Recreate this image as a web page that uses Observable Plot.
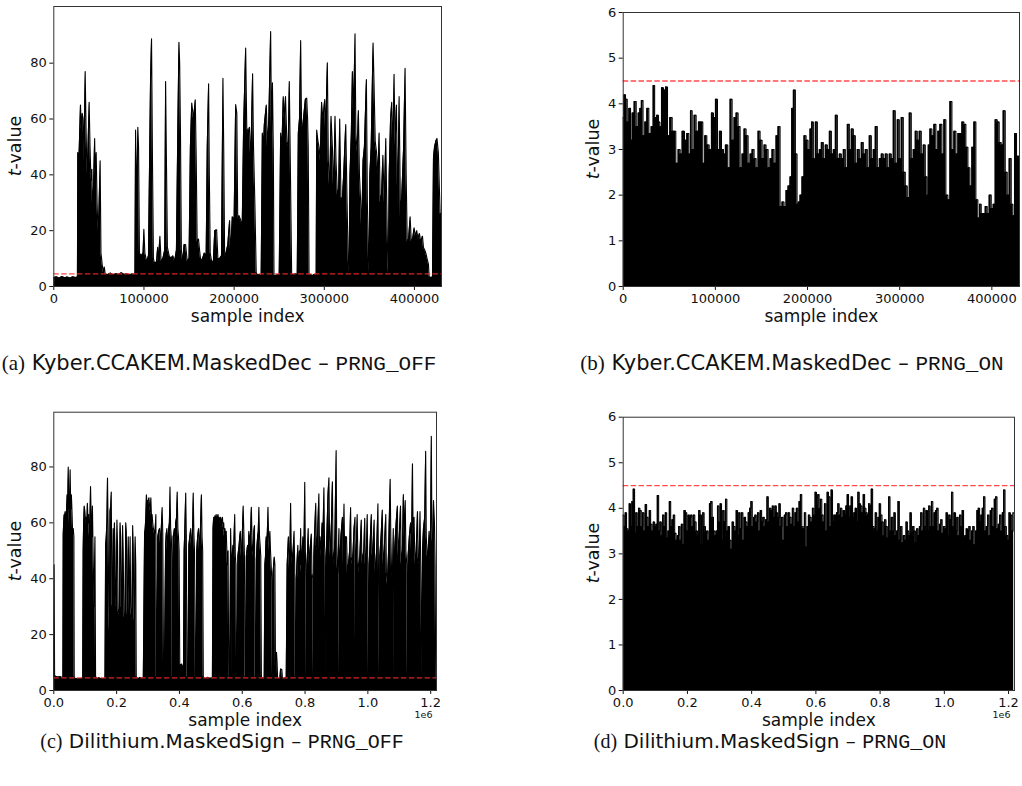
<!DOCTYPE html>
<html><head><meta charset="utf-8">
<script src="https://cdn.jsdelivr.net/npm/d3@7"></script>
<script src="https://cdn.jsdelivr.net/npm/@observablehq/plot@0.6"></script>
<style>
body{margin:0;background:#fff;}
#fig{position:relative;width:1022px;height:786px;overflow:hidden;font-family:"DejaVu Sans",sans-serif;color:#111;}
.ylab{position:absolute;font-size:17.5px;white-space:nowrap;transform:translate(-50%,-50%) rotate(-90deg);}
.cap{position:absolute;font-size:20px;white-space:nowrap;transform:translate(-50%,-50%);}
.cap.top{font-size:21px;}
.cap .lbl{font-family:"Liberation Serif",serif;}
.cap .nm{font-family:"DejaVu Sans",sans-serif;}
.cap .tt{font-family:"Liberation Mono","DejaVu Sans Mono",monospace;}
</style></head><body><div id="fig"></div>
<script>
// ---- data (sample index in thousands, t-value) ----
const threshold = 4.5;
const abTickVals = [0,100,200,300,400];
const abTickLabels = ["0","100000","200000","300000","400000"];
const cdTickVals = [0,200,400,600,800,1000,1200];
const cdTickLabels = ["0.0","0.2","0.4","0.6","0.8","1.0","1.2"];
const offTicks = [0,20,40,60,80];
const onTicks = [0,1,2,3,4,5,6];

const aPts = [[0,3.2],[3,3.5],[6,3.0],[9,3.6],[12,3.1],[15,3.4],[18,3.0],[21,3.5],[24,3.2],[26.2,3.4],
[26.6,48],[28,47],[29.6,65],[30.5,56],[31.5,62],[32.6,60],[33.5,45],[34.8,77],[35.8,56],[36.8,40],[37.8,48],[39.2,66],[40.2,50],[41.2,38],[42.2,42],[43,28],[44,35],[45.3,53],[46,40],[47,48],[48,30],[49,20],[50,26],[51.4,45],[52.3,12],[53,10],[54,7],[55,5],[56,7],[57,4.5],[60,4.3],[63,4.8],[66,4.2],[69,4.6],[72,4.4],[75,4.9],[78,4.3],[81,4.6],[84,4.2],[87,4.5],[90,4.4],
[90.7,56],[91.8,30],[93.2,57],[94,50],[95,12],[97,11],[99,12],[99.9,20.5],[101,12],[103,9],[105,11],[107.3,74],[108.4,88.7],[109.5,43],[110.5,10],[112,8],[114,9],[115.2,14],[116,9],[117.7,18],[119,9],[121,10],[123,13],[124,73.4],[125,43],[126,14],[128,11],[130,10],[132,11],[134,9],[136,13],[137.5,55],[138.8,87.5],[139.6,80],[140.5,55],[141.5,13],[143,9],[144.5,15],[146.2,15],[148,9],[150,10],[151.5,50],[153,65.7],[155,60],[156.9,66.9],[158,45],[159,16],[160.5,17],[161.7,13],[163,9],[165,10],[167,12],[169,11],[170.2,50],[171.7,72.6],[172.5,40],[173.5,12],[175,9],[177,9],[178.5,20],[180.6,20.3],[182,10],[184,10],[186,11],[187.6,74.6],[188.5,48],[189.5,10],[191,12],[193,15],[195,23.6],[196.1,12],[198,25],[200,24],[201.7,65.2],[203,62],[204,24],[205.4,25.4],[207,24],[209,22],[210.5,57],[212.8,85.4],[214,57],[215.5,55],[217,57],[218.5,45],[220.5,76.2],[221.5,50],[223,30],[224.5,5],
[226,4],[228,4.3],[230,3.8],
[231.3,55],[232.5,50],[233.5,58],[235.7,65],[237,50],[238.5,60],[240.5,91.3],[241.5,55],[242.5,73],[243.5,48],[244.2,4],
[246,3.9],[248,4.2],[250,4.1],
[251.6,55],[253,50],[254.5,68],[255.7,60],[257,68],[258.5,52],[260,50],[261.2,73.4],[262.3,45],[263.8,4.5],
[266,4.3],[268,4.6],[270,4.2],
[271.2,55],[272.5,60],[273.8,88.1],[274.8,58],[276,57],[277.5,62],[279,67],[280.5,67.5],[281.5,60],[282.2,50],[283.1,4],
[285,4.2],[287,3.9],[289,4.3],[291,4.1],
[291.6,56],[293,52],[294.2,50],[295.5,45],[297,66],[298.5,60],[300.5,67],[301.5,55],[303.4,80.1],[304.5,45],[306,35],[307.5,61],[309,50],[310.5,33],[311.9,61],[313,45],[314.5,33],[316,35],[317.1,60],[318.5,32],[320,31],[321.5,40],[323.8,58],[325,35],[326.5,10],[327.5,5],
[328.5,40],[330,55],[331.2,77],[332.5,62],[334.1,90.5],[335,55],[336.5,48],[337.8,63],[339,40],[340.4,30],[341.5,20],[343,45],[344.5,50],[346.7,74.1],[347.8,30],[349,10],[349.7,5],
[350.5,40],[352,50],[354.1,87.2],[355,75],[356.5,52],[358,48],[359.5,40],[360.8,55],[362,30],[363.5,33],[365,47],[366.5,30],[368.2,53],[369.5,25],[370.5,8],[371.1,5],
[372,40],[373.5,60],[374.8,66],[376,48],[377.4,76],[378.5,50],[380,65],[381.5,28],[383,68],[384.5,25],[386,33],[388,50],[389.6,78.2],[390.8,40],[392,16],[393.5,17],[395.2,25],[396.5,16],[398,17],[399.6,21],[401,18],[402.5,20],[404,17],[405.5,19],[407,16],[408.9,18],[410,14],[411.5,13],[412.6,12],[414,10],[415.5,8],[416.3,3.5],
[418,3.2],[420,3.4],
[421.1,46],[422.3,50],[423.7,52],[425,53],[426.5,48],[428.5,26],[430,26]];

const bPts = [[0,3.7],[1.4,4.2],[3.6,4.1],[5.1,3.6],[7.2,3.9],[8.7,3.2],[10.8,3.8],[13.0,4.05],[15.2,3.5],[17.3,3.8],[18.8,3.9],[20.6,4.07],[22.4,3.3],[24.6,3.6],[26.7,3.9],[28.9,3.35],[31.8,3.5],[33.2,4.4],[35.0,3.7],[37.6,3.75],[39.0,3.6],[40.5,3.5],[42.6,4.35],[44.8,4.3],[47.0,4.37],[49.1,3.3],[52.0,3.7],[54.2,3.4],[55.6,3.4],[58.5,2.7],[60.7,3.0],[62.9,2.9],[65.0,3.4],[67.9,3.2],[70.1,3.35],[72.3,2.9],[73.7,3.85],[75.9,3.0],[78.0,3.75],[80.2,3.4],[83.1,3.6],[85.3,3.6],[87.4,2.7],[89.6,3.3],[91.8,3.1],[94.7,3.0],[96.8,3.8],[99.0,3.7],[101.2,4.1],[103.3,3.0],[105.5,3.4],[107.7,3.0],[109.8,2.9],[112.0,3.1],[114.9,2.6],[117.1,4.1],[119.2,3.2],[121.4,3.7],[123.6,3.8],[125.7,3.5],[127.9,2.6],[130.1,2.9],[132.2,3.45],[134.4,3.3],[136.6,2.7],[138.8,2.9],[140.9,3.0],[143.1,2.8],[145.3,2.6],[147.4,3.4],[149.6,3.2],[151.8,2.8],[153.9,3.1],[156.1,3.0],[158.3,2.6],[160.4,2.8],[162.6,3.0],[164.8,2.7],[166.9,3.3],[169.1,3.5],[171.3,1.75],[173.4,1.85],[175.6,1.75],[177.8,2.1],[179.9,2.2],[182.1,2.4],[183.6,3.9],[185.7,4.3],[187.9,2.9],[189.3,1.8],[190.8,1.85],[192.9,2.0],[195.1,2.4],[197.3,3.3],[199.5,3.2],[201.6,3.0],[203.8,3.45],[205.2,3.6],[207.4,2.8],[209.6,3.6],[211.7,2.9],[213.9,3.0],[216.1,3.15],[218.2,2.8],[220.4,3.1],[222.6,3.0],[224.8,3.4],[226.9,2.9],[229.1,3.0],[231.3,3.75],[233.4,2.8],[235.6,2.9],[237.8,2.8],[239.9,3.0],[242.1,2.6],[244.3,3.55],[246.4,3.0],[248.6,3.45],[250.8,3.3],[252.9,2.7],[255.1,3.0],[257.3,2.8],[259.4,3.15],[261.6,2.9],[263.8,3.0],[265.9,2.6],[268.1,3.3],[270.3,2.8],[272.4,3.0],[274.6,3.5],[276.8,2.6],[279.0,2.8],[281.1,2.9],[283.3,2.8],[285.5,2.9],[287.6,2.6],[289.8,2.9],[292.0,2.8],[294.1,3.85],[296.3,2.7],[298.5,3.65],[300.6,2.8],[302.8,3.7],[305.0,2.5],[307.1,2.2],[309.3,1.95],[311.5,3.8],[313.6,2.8],[315.8,3.0],[318.0,3.4],[320.1,3.2],[322.3,3.4],[324.5,2.9],[326.7,3.1],[328.8,2.4],[330.3,2.0],[331.7,3.1],[333.9,3.45],[336.0,3.3],[338.2,3.55],[340.4,3.0],[342.5,3.4],[344.7,3.55],[346.9,2.9],[349.0,3.65],[351.2,2.0],[353.4,1.9],[355.6,4.05],[357.7,3.0],[359.9,3.4],[362.1,2.9],[364.2,3.35],[366.4,3.35],[368.6,3.6],[370.7,3.55],[372.9,3.05],[375.1,2.6],[377.2,2.2],[379.4,3.05],[381.6,3.6],[383.7,1.9],[385.9,1.5],[387.4,1.8],[389.5,1.6],[391.7,1.6],[393.9,1.75],[396.0,1.6],[398.2,2.0],[400.4,1.7],[402.5,1.8],[404.7,3.65],[406.9,3.6],[409.0,3.15],[411.2,3.1],[413.4,3.85],[415.6,2.5],[417.7,2.0],[419.9,2.8],[422.1,1.8],[423.5,1.55],[425.7,3.35],[427.8,2.85],[430,2.85]];

const cPts = [[0,4.5],[1,45],[2.5,5],[5,5.2],[8,4.8],[11,5],[14,4.6],[17,5],[20,4.8],[23,4.9],[26,4.5],[29,4.8],
[30,56],[31.5,60],[33,63],[34.5,62],[36,64],[38,62],[40,63],[42,70],[44,62],[46,80],[48,65],[50,60],[52,79],[54,65],[56,70],[58,64],[60,56],[62,58],[64,55],[65,5],
[68,4.2],[72,4.3],[76,4],[80,4.3],[84,4.1],[88,4.4],[92,4.3],
[93.5,50],[95,60],[97,66],[99,64],[101,61],[103,62],[105,58],[107,67],[109,60],[111,63],[113,55],[115,60],[117,73],[119,62],[121,55],[123,66],[125,50],[128,30],[131,55],[133,5],
[136,4.5],[140,4.3],[144,4.6],[148,4.2],[152,4.4],[156,4.1],[160,4.3],[163,4.5],
[165,52],[167,55],[169,60],[171,76],[173,58],[175,30],[177,21],[179,64],[181,66],[183,71],[185,30],[187,31],[189,58],[191,30],[193,60],[195,50],[197,31],[199,30],[201,61],[203,52],[205,28],[207,29],[209,27],[211,60],[213,55],[215,30],[217,28],[219,59],[221,50],[223,27],[225,26],[227,28],[229,60],[231,57],[233,30],[235,26],[237,55],[239,40],[241,28],[243,55],[245,30],[247,27],[249,25],[251,59],[253,52],[255,27],[257,25],[259,55],[261,45],[262.5,5],
[265,4.5],[270,4.3],[275,4.7],[280,4.4],[285,4.6],
[289,56],[291,58],[293,62],[295,70],[297,66],[299,68],[301,68],[303,69],[305,66],[307,64],[309,69],[311,62],[313,63],[315,60],[317,58],[319,57],[321,56],[323,58],[325,63],[326.5,5],
[328,4.6],
[331,55],[334,57],[337,58],[340,52],[343,60],[345,65.5],[347,56],[349.5,5],
[352,4.6],
[356,52],[358,56],[360,58],[362,50],[365,57],[368,60],[370,72.8],[372,58],[374,55],[376,48],[377.5,5],
[379,4.5],
[380,55],[382,56],[384,58],[386,52],[388,60],[391,62],[393,71],[395,58],[397,55],[399,50],[401,9.6],[404,9],[407,9.5],[410,8.5],[413,9],
[415,50],[417,57],[420,70.7],[422,55],[424,5],
[427,4.5],
[430,52],[433,55],[436,58],[439,50],[442,58],[444,70.7],[446,56],[448,50],[451,5],
[453,4.6],
[455,50],[458,55],[461,58],[464,50],[467,58],[470,70],[472,55],[474,50],[476,5],
[478,4.6],[484,4.3],[490,4.7],[496,4.4],[502,4.5],[505,4.6],
[507,58],[509,62],[511,61],[513,62.5],[515,60],[517,63],[519,61],[521,62],[523,63],[525,61],[527,62],[529,60],[531,62],[533,61],[535,60],[537,62],[539,58],[541,60],[543,55],[545,58],[547,55],[549,57],[551,50],[553,45],[555,50],[557,5],
[559,4.5],[561,20],[563,58],[565,47],[567,5],
[568,48],[570,52],[572,47],[574,55],[576,63],[578,48],[580,45],[582,5],
[584,4.5],
[586,48],[588,50],[590,52],[592,55],[594,57],[596,48],[598,50],[600,55],[603,66],[605,57],[607,48],[609,5],
[611,4.6],
[613,48],[615,50],[617,52],[619,48],[621,57],[623,55],[625,52],[627,58],[629,65.6],[631,55],[633,50],[635,48],[637,57],[639,59],[641,5],
[643,4.5],
[645,47],[647,52],[649,55],[651,57],[653,65.6],[655,55],[657,52],[659,48],[661,5],
[663,4.4],[667,4.6],[670,4.5],
[672,45],[674,48],[676,55],[678,52],[680,57],[682,65.6],[684,55],[686,50],[688,57],[690,50],[692,45],[694,40],[696,5],
[698,42],[700,45],[702,47.8],[704,45],[706,5],[707,12],[709,13.7],[711,10],[712.5,4.5],
[716,4.4],[720,4.6],[722,7.7],[726,7.5],[728,4.5],[732,4.3],[736,4.6],[740,4.4],
[743,45],[745,50],[747,55],[749,48],[751,42],[754,67],[756,52],[758,45],[760,48],[762,50],[765,57],[767,45],[769,5],
[771,4.8],[772,40],[774,45],[777,52],[779,40],[782,50],[784,45],[786,58],[788,42],[790,48],[793,55],[796,45],[799,74.5],[801,50],[803,38],[804.5,5],
[806,45],[808,50],[810,58],[812,45],[814,48],[817,52],[820,56],[822,42],[825,40],[826.5,5],
[828,48],[830,55],[834,67],[836,52],[838,50],[841,60],[844,70.4],[846,50],[848,55],[851,48],[854,60],[857,55],[860,72.5],[862,52],[864,48],[866,5],
[868,50],[871,62],[873,70],[876,76.1],[878,55],[880,48],[884,60],[887,74.7],[889,50],[892,45],[895,55],[899,85.9],[901,48],[904,42],[908,58],[909,5],
[911,48],[914,55],[919,62],[921,45],[924,66.7],[926,50],[929,55],[932,55],[935,42],[938,45],[942,50],[945,65.5],[947,48],[950,45],[953,50],[956,58],[959,62],[961,5],
[963,50],[966,63],[968,48],[972,42],[975,50],[979,61],[981,45],[984,48],[987,50],[990,61.6],[992,45],[995,48],[998,63],[1000,40],[1002,5],
[1004,45],[1008,55],[1011,63],[1013,48],[1016,50],[1020,61],[1022,42],[1025,45],[1028,50],[1032,66.8],[1034,40],[1036,5],
[1038,48],[1042,55],[1046,64.6],[1048,45],[1052,50],[1057,63],[1059,42],[1062,38],[1066,50],[1071,75.6],[1073,55],[1076,40],[1079,45],[1081,58],[1083,5],
[1085,50],[1090,60],[1094,66],[1096,48],[1100,55],[1104,66],[1106,45],[1110,50],[1113,70.1],[1116,55],[1119,68],[1121,50],[1124,45],[1126,5],
[1128,48],[1132,55],[1136,60],[1139,50],[1142,81.1],[1144,55],[1147,62],[1150,45],[1154,50],[1158,64],[1160,48],[1163,45],[1166,64],[1169,40],[1172,5],
[1174,50],[1177,58],[1181,62],[1184,85.6],[1186,55],[1189,48],[1192,50],[1195,57],[1197,45],[1200,60],[1202,91],[1204,55],[1207,52],[1209,68],[1212,60],[1214,45],[1216,5],[1218.5,4.5]];

// panel (d): t-values read at evenly spaced sample positions over the whole trace
const dSpanK = 1216;
const dT = [3.85,3.6,3.9,3.55,3.5,4.1,3.6,4.15,4.42,3.45,3.9,3.6,4.0,3.95,3.6,3.9,3.5,4.08,3.8,3.6,3.95,3.65,3.5,3.7,3.6,3.65,4.28,3.5,3.7,3.4,3.85,3.6,3.9,3.35,3.5,4.15,3.6,3.75,3.85,3.45,3.3,3.4,3.6,3.3,3.65,3.2,3.95,3.9,3.5,3.85,3.8,3.85,3.6,3.85,3.7,3.5,3.4,3.95,3.85,3.2,3.9,3.6,3.45,3.5,3.3,4.1,4.15,3.8,3.5,3.4,3.5,4.05,3.7,4.1,3.3,3.95,3.7,4.2,3.5,3.6,3.3,3.1,3.7,3.6,3.5,3.95,3.4,3.9,3.55,3.9,3.3,3.8,3.7,3.6,3.9,4.0,4.15,3.6,3.8,3.85,3.7,3.9,3.5,3.95,3.7,3.8,3.6,3.75,4.25,3.7,4.0,3.95,4.05,3.8,4.05,3.9,3.8,4.1,3.6,3.8,3.3,3.85,3.9,3.6,3.9,3.8,3.65,4.0,3.6,3.9,4.0,3.7,4.15,4.3,3.6,3.55,3.9,3.15,3.6,3.85,3.8,3.7,4.0,3.85,4.35,4.05,4.3,4.0,4.2,3.85,3.7,4.1,3.5,4.35,4.25,3.6,4.4,3.7,3.85,3.85,3.9,4.1,3.85,4.0,3.8,3.95,3.85,4.05,4.3,3.8,4.05,4.25,3.8,3.9,4.0,3.7,4.35,4.1,4.05,3.9,4.3,4.0,3.9,3.85,4.1,4.05,4.42,3.6,3.55,3.9,3.5,3.8,4.1,3.85,3.7,3.4,3.75,3.6,3.35,4.25,3.5,3.8,3.5,3.9,3.4,3.5,4.15,3.3,3.6,3.25,3.4,3.3,3.7,3.5,3.4,3.9,3.45,3.6,3.5,3.25,3.55,3.4,3.6,3.9,3.5,4.0,3.6,3.95,3.5,4.05,3.6,4.15,3.6,3.9,3.95,4.0,3.5,3.65,3.75,3.45,3.6,3.55,3.9,3.4,3.85,3.75,4.35,3.6,3.9,3.5,3.8,3.4,3.85,3.6,3.95,3.35,3.4,3.55,3.5,3.6,3.3,3.5,3.6,3.2,3.5,3.95,4.0,3.7,3.85,4.0,4.25,3.5,3.6,3.85,3.4,3.95,4.0,3.6,4.2,4.25,3.55,3.65,3.85,3.5,3.9,4.4,3.6,3.4,3.3,3.9,3.85,3.5,3.9];
const dPts = dT.map((t, i) => [i * dSpanK / (dT.length - 1), t]);

// ---- drawing ----
const fig = document.getElementById("fig");
function addPanel(o) {
  const data = o.pts.map(([x, t]) => ({x, t}));
  const svg = Plot.plot({
    width: o.w, height: o.h,
    marginTop: o.mt, marginRight: o.mr, marginBottom: o.mb, marginLeft: o.ml,
    style: {fontFamily: '"DejaVu Sans", sans-serif', fontSize: "13px", color: "#111", background: "none", overflow: "visible"},
    x: {domain: o.xDomain, ticks: o.xTicks, tickFormat: d => o.xLabels[o.xTicks.indexOf(d)], tickSize: 4, tickPadding: 3, label: null},
    y: {domain: o.yDomain, ticks: o.yTicks, tickFormat: d => String(d), tickSize: 4, tickPadding: 3, label: null},
    marks: [
      Plot.areaY(data, {x: "x", y: "t", fill: "#000", curve: o.curve}),
      Plot.lineY(data, {x: "x", y: "t", stroke: "#000", strokeWidth: 1.1, curve: o.curve}),
      Plot.ruleY([threshold], {stroke: "#ff2b2b", strokeOpacity: 0.85, strokeWidth: 1.3, strokeDasharray: "5.5,2.4"}),
      Plot.frame({stroke: "#333", strokeWidth: 1}),
      Plot.text(["sample index"], {frameAnchor: "bottom", dy: 35, fontSize: 17}),
      ...(o.offset ? [Plot.text([o.offset], {frameAnchor: "bottom-right", dy: 27, dx: -4, fontSize: 9.5, textAnchor: "end"})] : [])
    ]
  });
  svg.style.position = "absolute";
  svg.style.left = o.left + "px";
  svg.style.top = o.top + "px";
  fig.appendChild(svg);
}
function addText(cls, html, x, y) {
  const d = document.createElement("div");
  d.className = cls; d.innerHTML = html;
  d.style.left = x + "px"; d.style.top = y + "px";
  fig.appendChild(d);
}

addPanel({pts: aPts, left: 0, top: 0, w: 460, h: 330, mt: 6, mr: 19, mb: 44, ml: 53.3,
  xDomain: [0, 430], xTicks: abTickVals, xLabels: abTickLabels, yDomain: [0, 100.3], yTicks: offTicks, curve: "linear"});
addPanel({pts: bPts, left: 540, top: 0, w: 482, h: 330, mt: 12, mr: 3, mb: 44, ml: 82.7,
  xDomain: [0, 430], xTicks: abTickVals, xLabels: abTickLabels, yDomain: [0, 6], yTicks: onTicks, curve: "step"});
addPanel({pts: cPts, left: 0, top: 380, w: 460, h: 350, mt: 31.7, mr: 24, mb: 40, ml: 53.3,
  xDomain: [0, 1218.5], xTicks: cdTickVals, xLabels: cdTickLabels, yDomain: [0, 99.6], yTicks: offTicks, curve: "linear", offset: "1e6"});
addPanel({pts: dPts, left: 540, top: 380, w: 482, h: 350, mt: 36.7, mr: 8, mb: 40, ml: 82.7,
  xDomain: [0, 1218.5], xTicks: cdTickVals, xLabels: cdTickLabels, yDomain: [0, 6], yTicks: onTicks, curve: "step", offset: "1e6"});

addText("ylab", "<i>t</i>-value", 15, 146);
addText("ylab", "<i>t</i>-value", 593, 149);
addText("ylab", "<i>t</i>-value", 15, 551);
addText("ylab", "<i>t</i>-value", 593, 553);

addText("cap top", '<span class="lbl">(a)</span> <span class="nm">Kyber.CCAKEM.MaskedDec – </span><span class="tt">PRNG_OFF</span>', 219, 363);
addText("cap top", '<span class="lbl">(b)</span> <span class="nm">Kyber.CCAKEM.MaskedDec – </span><span class="tt">PRNG_ON</span>', 792, 363);
addText("cap", '<span class="lbl">(c)</span> <span class="nm">Dilithium.MaskedSign – </span><span class="tt">PRNG_OFF</span>', 222, 741);
addText("cap", '<span class="lbl">(d)</span> <span class="nm">Dilithium.MaskedSign – </span><span class="tt">PRNG_ON</span>', 770, 741);
</script></body></html>
